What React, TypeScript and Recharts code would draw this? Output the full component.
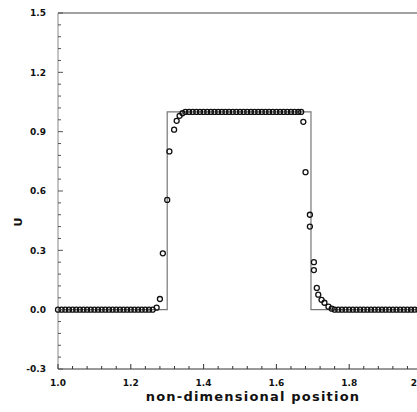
import { ComposedChart, Line, Scatter, XAxis, YAxis, ReferenceLine, Label } from 'recharts'

// numerical solution (open circles)
const posX = [
  1.0, 1.01, 1.02, 1.03, 1.04, 1.05, 1.06, 1.07, 1.08, 1.09,
  1.1, 1.11, 1.12, 1.13, 1.14, 1.15, 1.16, 1.17, 1.18, 1.19,
  1.2, 1.21, 1.22, 1.23, 1.24, 1.25, 1.26, 1.271,
  1.28, 1.288, 1.3, 1.306, 1.319, 1.326, 1.334, 1.342,
  1.35, 1.36, 1.37, 1.38, 1.39, 1.4, 1.41, 1.42, 1.43, 1.44, 1.45,
  1.46, 1.47, 1.48, 1.49, 1.5, 1.51, 1.52, 1.53, 1.54, 1.55, 1.56,
  1.57, 1.58, 1.59, 1.6, 1.61, 1.62, 1.63, 1.64, 1.65, 1.66, 1.668,
  1.674, 1.68, 1.692, 1.692, 1.703, 1.703, 1.711, 1.715, 1.724, 1.732, 1.743, 1.752,
  1.76, 1.77, 1.78, 1.79, 1.8, 1.81, 1.82, 1.83, 1.84, 1.85, 1.86, 1.87,
  1.88, 1.89, 1.9, 1.91, 1.92, 1.93, 1.94, 1.95, 1.96, 1.97, 1.98, 1.99,
]
const numU = [
  0, 0, 0, 0, 0, 0, 0, 0, 0, 0,
  0, 0, 0, 0, 0, 0, 0, 0, 0, 0,
  0, 0, 0, 0, 0, 0, 0, 0.01,
  0.054, 0.285, 0.555, 0.8, 0.91, 0.955, 0.98, 0.993,
  1, 1, 1, 1, 1, 1, 1, 1, 1, 1, 1,
  1, 1, 1, 1, 1, 1, 1, 1, 1, 1, 1,
  1, 1, 1, 1, 1, 1, 1, 1, 1, 1, 1,
  0.95, 0.695, 0.48, 0.42, 0.24, 0.2, 0.11, 0.076, 0.05, 0.035, 0.015, 0.005,
  0, 0, 0, 0, 0, 0, 0, 0, 0, 0, 0, 0,
  0, 0, 0, 0, 0, 0, 0, 0, 0, 0, 0, 0,
]

// exact solution (solid step)
const exactX = [1.0, 1.3, 1.3, 1.695, 1.695, 2.0]
const exactU = [0, 0, 1, 1, 0, 0]

const xTicks = [
  1.0, 1.04, 1.08, 1.12, 1.16, 1.2, 1.24, 1.28, 1.32, 1.36, 1.4, 1.44, 1.48,
  1.52, 1.56, 1.6, 1.64, 1.68, 1.72, 1.76, 1.8, 1.84, 1.88, 1.92, 1.96, 2.0,
]
const yTicks = [
  -0.3, -0.24, -0.18, -0.12, -0.06, 0, 0.06, 0.12, 0.18, 0.24, 0.3,
  0.36, 0.42, 0.48, 0.54, 0.6, 0.66, 0.72, 0.78, 0.84, 0.9,
  0.96, 1.02, 1.08, 1.14, 1.2, 1.26, 1.32, 1.38, 1.44, 1.5,
]

const numData = posX.map((x, i) => ({ x, u: numU[i] }))
const exactData = exactX.map((x, i) => ({ x, u: exactU[i] }))

const font = { fontFamily: 'DejaVu Sans', fontWeight: 'bold' as const, fill: '#111' }

function XTick(props: any) {
  const { x, y, payload, index } = props
  const major = index % 5 === 0
  const last = payload.value === 2
  return (
    <g>
      <line x1={x} x2={x} y1={y} y2={y - (major ? 5 : 3)} stroke="#333" />
      {major && (
        <text x={last ? x - 5 : x} y={y + 17} textAnchor={last ? 'end' : 'middle'} fontSize={9} {...font}>
          {last ? '2' : payload.value.toFixed(1)}
        </text>
      )}
    </g>
  )
}

function YTick(props: any) {
  const { x, y, payload, index } = props
  const major = index % 5 === 0
  return (
    <g>
      <line x1={x} x2={x + (major ? 5 : 3)} y1={y} y2={y} stroke="#555" />
      {major && (
        <text x={x - 12} y={y + 3.3} textAnchor="end" fontSize={9} {...font}>
          {payload.value.toFixed(1)}
        </text>
      )}
    </g>
  )
}

function OpenCircle(props: any) {
  const { cx, cy } = props
  return <circle cx={cx} cy={cy} r={2.5} fill="none" stroke="#111" strokeWidth={1.3} />
}

export default function App() {
  return (
    <div style={{ position: 'fixed', left: 0, top: 0, width: 417, height: 412, overflow: 'hidden', background: '#fff' }}>
      <ComposedChart width={442} height={412} margin={{ top: 13, right: 20, bottom: 0, left: 0 }}>
        <XAxis
          dataKey="x"
          type="number"
          domain={[1, 2]}
          ticks={xTicks}
          interval={0}
          tickSize={0}
          tickMargin={0}
          tickLine={false}
          tick={<XTick />}
          height={43}
          stroke="#333"
        >
          <Label
            content={(p: any) => {
              const vb = p.viewBox
              return (
                <text x={vb.x + vb.width / 2 + 13} y={vb.y + 32} textAnchor="middle" fontSize={13} letterSpacing={1.2} {...font}>
                  non-dimensional position
                </text>
              )
            }}
          />
        </XAxis>
        <YAxis
          type="number"
          domain={[-0.3, 1.5]}
          ticks={yTicks}
          interval={0}
          tickSize={0}
          tickMargin={0}
          tickLine={false}
          tick={<YTick />}
          width={58}
          stroke="#888"
        >
          <Label
            content={(p: any) => {
              const vb = p.viewBox
              const cx = vb.x + 18
              const cy = vb.y + vb.height / 2 + 31
              return (
                <text x={cx} y={cy} transform={`rotate(-90, ${cx}, ${cy})`} textAnchor="middle" dominantBaseline="central" fontSize={11} {...font}>
                  U
                </text>
              )
            }}
          />
        </YAxis>
        <ReferenceLine y={1.5} stroke="#444" />
        <Line
          data={exactData}
          dataKey="u"
          type="linear"
          stroke="#777"
          strokeWidth={1.2}
          dot={false}
          isAnimationActive={false}
        />
        <Scatter data={numData} dataKey="u" shape={<OpenCircle />} isAnimationActive={false} />
      </ComposedChart>
    </div>
  )
}
